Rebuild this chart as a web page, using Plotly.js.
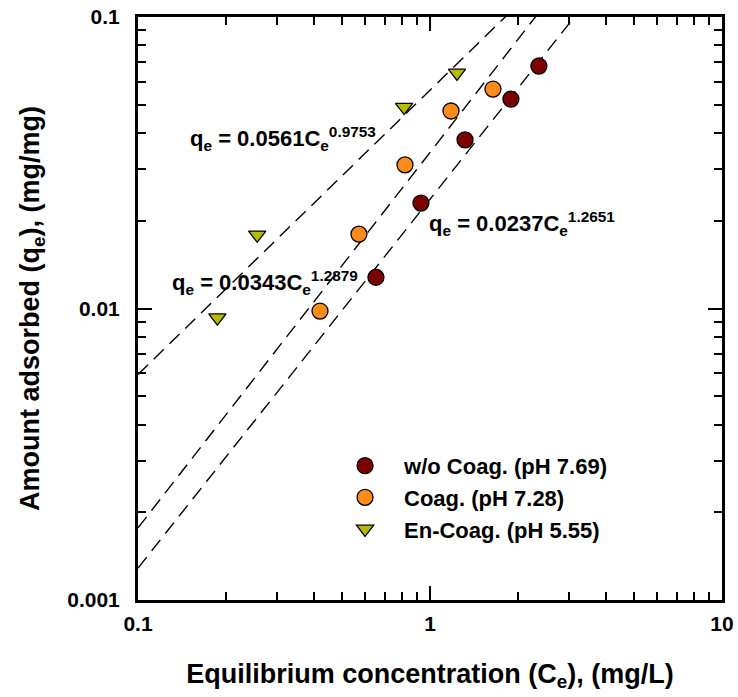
<!DOCTYPE html>
<html>
<head>
<meta charset="utf-8">
<script src="https://cdn.plot.ly/plotly-3.0.1.min.js"></script>
<style>html,body{margin:0;padding:0;background:#fff;}</style>
</head>
<body>
<div id="chart" style="width:738px;height:697px;"></div>
<script>
// Data
const woCoagX = [0.653, 0.931, 1.318, 1.893, 2.36];
const woCoagY = [0.0128, 0.0230, 0.0379, 0.0523, 0.0679];
const coagX = [0.420, 0.571, 0.821, 1.180, 1.643];
const coagY = [0.0098, 0.0180, 0.0311, 0.0476, 0.0566];
const enCoagX = [0.187, 0.256, 0.815, 1.237];
const enCoagY = [0.0093, 0.0179, 0.0491, 0.0643];

// Freundlich fit parameters printed on the chart: q = K * C^n
const fitK = [0.0561, 0.0343, 0.0237];
const fitN = [0.9753, 1.2879, 1.2651];
const fitCEnds = [0.1, 10];

const seriesNames = ['w/o Coag. (pH 7.69)', 'Coag. (pH 7.28)', 'En-Coag. (pH 5.55)'];
const xTickVals = [0.1, 1, 10];
const xTickText = ['0.1', '1', '10'];
const yTickVals = [0.001, 0.01, 0.1];
const yTickText = ['0.001', '0.01', '0.1'];
const minorX = [0.2,0.3,0.4,0.5,0.6,0.7,0.8,0.9,2,3,4,5,6,7,8,9];
const minorY = [0.002,0.003,0.004,0.005,0.006,0.007,0.008,0.009,0.02,0.03,0.04,0.05,0.06,0.07,0.08,0.09];

const FONT = 'Liberation Sans, Arial, sans-serif';

const fitTraces = fitK.map((k, i) => ({
  x: fitCEnds,
  y: fitCEnds.map(c => k * Math.pow(c, fitN[i])),
  mode: 'lines',
  line: {color: 'black', width: 1.4, dash: '14px,8px'},
  showlegend: false,
  hoverinfo: 'skip'
}));

const mk = (sym, color, size) => ({symbol: sym, size: size, color: color, line: {color: 'black', width: 1.3}});

const data = fitTraces.concat([
  {x: woCoagX, y: woCoagY, mode: 'markers', name: seriesNames[0], marker: mk('circle', '#7d0000', 16)},
  {x: coagX, y: coagY, mode: 'markers', name: seriesNames[1], marker: mk('circle', '#ff8c1a', 16)},
  {x: enCoagX, y: enCoagY, mode: 'markers', name: seriesNames[2], marker: mk('triangle-down', '#b9b900', 15)}
]);

const axisCommon = {
  type: 'log',
  showgrid: false,
  zeroline: false,
  showline: true,
  linecolor: 'black',
  linewidth: 3,
  mirror: 'allticks',
  ticks: 'inside',
  ticklen: 14,
  tickwidth: 2,
  tickcolor: 'black',
  tickfont: {family: FONT, size: 21, color: 'black', weight: 'bold'},
  tickmode: 'array',
  automargin: false
};

const layout = {
  width: 738,
  height: 697,
  margin: {l: 138, r: 16, t: 17, b: 97},
  paper_bgcolor: 'white',
  plot_bgcolor: 'white',
  font: {family: FONT, color: 'black'},
  xaxis: Object.assign({}, axisCommon, {
    range: [-1, 1],
    tickvals: xTickVals,
    ticktext: xTickText,
    ticklabelstandoff: 3,
    minor: {tickmode: 'array', tickvals: minorX, ticks: 'inside', ticklen: 8, tickwidth: 2, tickcolor: 'black', showgrid: false},
    title: {text: 'Equilibrium concentration (C<sub>e</sub>), (mg/L)', font: {family: FONT, size: 27, weight: 'bold'}, standoff: 30}
  }),
  yaxis: Object.assign({}, axisCommon, {
    range: [-3, -1],
    tickvals: yTickVals,
    ticktext: yTickText,
    ticklabelstandoff: 11,
    minor: {tickmode: 'array', tickvals: minorY, ticks: 'inside', ticklen: 8, tickwidth: 2, tickcolor: 'black', showgrid: false},
    title: {text: 'Amount adsorbed (q<sub>e</sub>), (mg/mg)', font: {family: FONT, size: 27, weight: 'bold'}, standoff: 20}
  }),
  legend: {
    x: 0.322, y: 0.266, xanchor: 'left', yanchor: 'top',
    bgcolor: 'rgba(0,0,0,0)',
    font: {family: FONT, size: 22, weight: 'bold'},
    itemwidth: 68
  },
  annotations: [
    {xref: 'paper', yref: 'paper', x: 0.085, y: 0.792, xanchor: 'left', yanchor: 'middle', showarrow: false,
     text: 'q<sub>e</sub> = 0.0561C<sub>e</sub><sup>0.9753</sup>', font: {family: FONT, size: 22, weight: 'bold'}},
    {xref: 'paper', yref: 'paper', x: 0.055, y: 0.545, xanchor: 'left', yanchor: 'middle', showarrow: false,
     text: 'q<sub>e</sub> = 0.0343C<sub>e</sub><sup>1.2879</sup>', font: {family: FONT, size: 22, weight: 'bold'}},
    {xref: 'paper', yref: 'paper', x: 0.495, y: 0.645, xanchor: 'left', yanchor: 'middle', showarrow: false,
     text: 'q<sub>e</sub> = 0.0237C<sub>e</sub><sup>1.2651</sup>', font: {family: FONT, size: 22, weight: 'bold'}}
  ]
};

Plotly.newPlot('chart', data, layout, {displayModeBar: false, staticPlot: true});
</script>
</body>
</html>
